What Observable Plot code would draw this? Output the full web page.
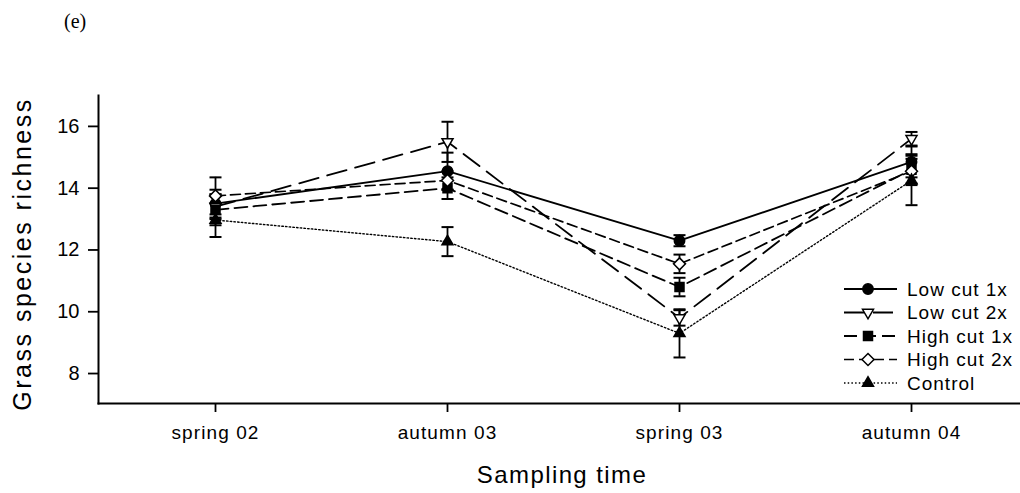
<!DOCTYPE html>
<html><head><meta charset="utf-8">
<script src="https://cdn.jsdelivr.net/npm/d3@7"></script>
<script src="https://cdn.jsdelivr.net/npm/@observablehq/plot@0.6"></script>
<style>
body{margin:0;background:#fff;}
#wrap{position:relative;width:1020px;height:493px;font-family:"Liberation Sans",Arial,sans-serif;color:#000;}
#tag{position:absolute;left:64px;top:11px;font-family:"Liberation Serif","Times New Roman",serif;font-size:20px;line-height:1;}
#ytitle{position:absolute;left:22px;top:254px;transform:translate(-50%,-50%) rotate(-90deg);white-space:nowrap;font-size:25px;letter-spacing:2.5px;line-height:1;}
#xtitle{position:absolute;left:562px;top:463px;transform:translateX(-50%);white-space:nowrap;font-size:24px;letter-spacing:1.4px;line-height:1;}
#legend{position:absolute;left:840px;top:276px;}
#chart{position:absolute;left:0;top:0;}
#chart svg text{font-family:"Liberation Sans",Arial,sans-serif;}
.xt text{letter-spacing:1.1px;}
</style></head><body>
<div id="wrap">
<div id="chart"></div>
<div id="tag">(e)</div>
<div id="ytitle">Grass species richness</div>
<div id="xtitle">Sampling time</div>
<div id="legend"></div>
</div>
<script>
// ---- data ----
const times = ["spring 02", "autumn 03", "spring 03", "autumn 04"];
const seriesNames = ["Low cut 1x", "Low cut 2x", "High cut 1x", "High cut 2x", "Control"];
const lowCut1x   = [13.5, 14.55, 12.3, 14.85];
const lowCut2x   = [13.4, 15.5, 9.8, 15.6];
const highCut1x  = [13.3, 14.0, 10.8, 14.6];
const highCut2x  = [13.75, 14.25, 11.55, 14.55];
const control    = [12.97, 12.27, 9.3, 14.25];
const lowCut1xErr  = [0.45, 0.6, 0.18, 0.5];
const lowCut2xErr  = [0.4, 0.65, 0.25, 0.22];
const highCut1xErr = [0.5, 0.35, 0.3, 0.5];
const highCut2xErr = [0.6, 0.3, 0.3, 0.4];
const controlErr   = [0.55, 0.47, 0.78, 0.8];
const yTicks = [8, 10, 12, 14, 16];

const values = [lowCut1x, lowCut2x, highCut1x, highCut2x, control];
const errors = [lowCut1xErr, lowCut2xErr, highCut1xErr, highCut2xErr, controlErr];

// ---- symbols ----
const rOf = size => Math.sqrt(size / Math.PI);
const sym = {
  circle: {draw(c, s){ const r = rOf(s); c.moveTo(r,0); c.arc(0,0,r,0,2*Math.PI); c.closePath(); }},
  triDown: {draw(c, s){ const a = 2*rOf(s); c.moveTo(-a/2,-a*0.2887); c.lineTo(a/2,-a*0.2887); c.lineTo(0,a*0.577); c.closePath(); }},
  triUp: {draw(c, s){ const a = 2*rOf(s); c.moveTo(-a/2,a*0.2887); c.lineTo(a/2,a*0.2887); c.lineTo(0,-a*0.577); c.closePath(); }},
  square: {draw(c, s){ const r = rOf(s); c.rect(-r,-r,2*r,2*r); }},
  diamond: {draw(c, s){ const r = rOf(s); c.moveTo(0,-r); c.lineTo(r,0); c.lineTo(0,r); c.lineTo(-r,0); c.closePath(); }},
  cap: {draw(c, s){ const r = rOf(s); c.moveTo(-r,0); c.lineTo(r,0); }}
};

// ---- styles ----
const styles = [
  {dash: null, symbol: sym.circle, fill: "black", r: 5.2, w: 1.8},
  {dash: "20,9", symbol: sym.triDown, fill: "white", r: 5.5, w: 1.8},
  {dash: "13,6", symbol: sym.square, fill: "black", r: 4.5, w: 1.8},
  {dash: "10,5", symbol: sym.diamond, fill: "white", r: 6, w: 1.7},
  {dash: "1.5,2.2", symbol: sym.triUp, fill: "black", r: 5.5, w: 1.4}
];

const rows = [];
seriesNames.forEach((name, j) => times.forEach((t, i) => rows.push({series: name, j, time: t, value: values[j][i], err: errors[j][i]})));

const marks = [];
seriesNames.forEach((name, j) => {
  marks.push(Plot.line(rows.filter(d => d.j === j), {x: "time", y: "value", stroke: "black", strokeWidth: styles[j].w, strokeDasharray: styles[j].dash}));
});
marks.push(Plot.ruleX(rows, {x: "time", y1: d => d.value - d.err, y2: d => d.value + d.err, stroke: "black", strokeWidth: 1.8}));
marks.push(Plot.dot(rows, {x: "time", y: d => d.value + d.err, symbol: sym.cap, r: 6, stroke: "black", strokeWidth: 2, fill: "none"}));
marks.push(Plot.dot(rows, {x: "time", y: d => d.value - d.err, symbol: sym.cap, r: 6, stroke: "black", strokeWidth: 2, fill: "none"}));
seriesNames.forEach((name, j) => {
  marks.push(Plot.dot(rows.filter(d => d.j === j), {x: "time", y: "value", symbol: styles[j].symbol, r: styles[j].r, fill: styles[j].fill, stroke: "black", strokeWidth: 1.5}));
});

const chart = Plot.plot({
  width: 1020, height: 493,
  marginLeft: 98, marginRight: 0, marginTop: 95, marginBottom: 90,
  style: {background: "white", color: "black", overflow: "visible"},
  x: {type: "point", domain: times, range: [97, 1028], padding: 0.5, label: null},
  y: {domain: [7.03, 17], label: null},
  marks: [
    Plot.frame({anchor: "left", stroke: "black", strokeWidth: 2}),
    Plot.frame({anchor: "bottom", stroke: "black", strokeWidth: 2}),
    Plot.axisY({ticks: yTicks, tickSize: 10, tickPadding: 9, fontSize: 20, strokeWidth: 1.8, label: null}),
    Plot.axisX({tickSize: 9, tickPadding: 13, fontSize: 19, strokeWidth: 1.8, label: null, className: "xt"}),
    ...marks
  ]
});
document.getElementById("chart").appendChild(chart);

// ---- legend ----
const lg = d3.select("#legend").append("svg").attr("width", 180).attr("height", 125)
  .style("font-family", '"Liberation Sans",Arial,sans-serif');
seriesNames.forEach((name, j) => {
  const y = 13 + j * 23.5;
  const g = lg.append("g").attr("transform", `translate(0,${y})`);
  g.append("line").attr("x1", 4).attr("x2", 57).attr("y1", 0).attr("y2", 0)
    .attr("stroke", "black").attr("stroke-width", styles[j].w)
    .attr("stroke-dasharray", styles[j].dash);
  const p = d3.path();
  styles[j].symbol.draw(p, Math.PI * styles[j].r * styles[j].r);
  g.append("path").attr("transform", "translate(28,0)").attr("d", p.toString())
    .attr("fill", styles[j].fill).attr("stroke", "black").attr("stroke-width", 1.5);
  g.append("text").attr("x", 67).attr("y", 0).attr("dy", "0.35em")
    .attr("font-size", 19).attr("letter-spacing", "1px").text(name);
});
</script>
</body></html>
